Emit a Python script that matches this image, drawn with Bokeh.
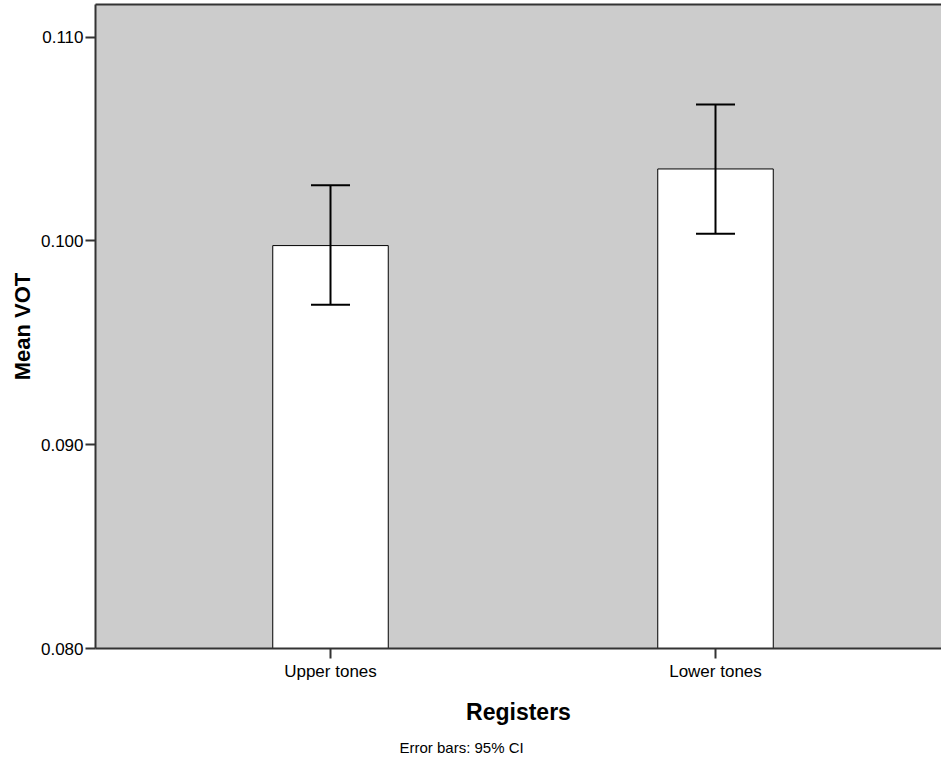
from bokeh.plotting import figure
from bokeh.models import (ColumnDataSource, Range1d, FixedTicker, NumeralTickFormatter,
                          Whisker, TeeHead, LinearAxis, Title)
from bokeh.embed import file_html
from bokeh.resources import INLINE

# ---- data ----
categories = ["Upper tones", "Lower tones"]
mean_vot = [0.09977, 0.10353]
ci_lower = [0.09687, 0.10035]
ci_upper = [0.10273, 0.10669]
y_ticks = [0.080, 0.090, 0.100, 0.110]

positions = [i + 1 for i in range(len(categories))]
src = ColumnDataSource(dict(x=positions, top=mean_vot, lower=ci_lower, upper=ci_upper))

FONT = "Liberation Sans"
DARK = "#333333"

p = figure(width=941, height=772, output_backend="svg", toolbar_location=None,
           x_range=Range1d(0.3896, 2.587), y_range=Range1d(0.080, 0.1116),
           min_border_left=95, min_border_top=4, min_border_right=0,
           min_border_bottom=124)

p.background_fill_color = "#cccccc"
p.border_fill_color = "white"
p.outline_line_color = None
p.grid.visible = False

p.vbar(x="x", top="top", bottom=0.080, width=0.3, source=src,
       fill_color="white", line_color="black", line_width=1)

w = Whisker(source=src, base="x", lower="lower", upper="upper",
            line_color="black", line_width=2, level="overlay",
            upper_head=TeeHead(size=39, line_color="black", line_width=2),
            lower_head=TeeHead(size=39, line_color="black", line_width=2))
p.add_layout(w)

# x axis
xa = p.xaxis[0]
xa.ticker = FixedTicker(ticks=positions)
xa.major_label_overrides = {pos: cat for pos, cat in zip(positions, categories)}
xa.axis_label = "Registers"
xa.axis_label_text_font = FONT
xa.axis_label_text_font_style = "bold"
xa.axis_label_text_font_size = "23px"
xa.axis_label_text_color = "black"
xa.axis_label_standoff = 15
xa.major_label_text_font = FONT
xa.major_label_text_font_size = "17px"
xa.major_label_text_color = "black"
xa.major_label_standoff = 3
xa.major_tick_in = 0
xa.major_tick_out = 10
xa.minor_tick_line_color = None
xa.axis_line_color = DARK
xa.axis_line_width = 2
xa.major_tick_line_color = DARK
xa.major_tick_line_width = 2

# y axis
ya = p.yaxis[0]
ya.ticker = FixedTicker(ticks=y_ticks)
ya.formatter = NumeralTickFormatter(format="0.000")
ya.axis_label = "Mean VOT"
ya.axis_label_text_font = FONT
ya.axis_label_text_font_style = "bold"
ya.axis_label_text_font_size = "22px"
ya.axis_label_text_color = "black"
ya.axis_label_standoff = 3
ya.major_label_text_font = FONT
ya.major_label_text_font_size = "17px"
ya.major_label_text_color = "black"
ya.major_label_standoff = 2
ya.major_tick_in = 0
ya.major_tick_out = 10
ya.minor_tick_line_color = None
ya.axis_line_color = DARK
ya.axis_line_width = 2
ya.major_tick_line_color = DARK
ya.major_tick_line_width = 2

# top border line
top_axis = LinearAxis(ticker=FixedTicker(ticks=[]), axis_line_color=DARK, axis_line_width=2,
                      major_tick_out=0, major_tick_in=0, minor_tick_line_color=None,
                      major_label_standoff=0, major_label_text_font_size="0px")
p.add_layout(top_axis, "above")

foot = Title(text="Error bars: 95% CI", align="left", offset=293, vertical_align="top",
             text_font=FONT, text_font_size="15px", text_font_style="normal",
             text_color="black", standoff=0, padding=11)
p.add_layout(foot, "below")

open("out.html", "w").write(file_html(p, INLINE))
